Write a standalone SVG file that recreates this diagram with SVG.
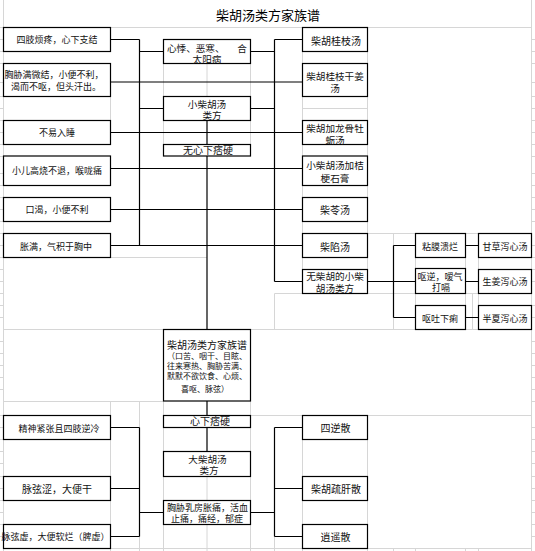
<svg xmlns="http://www.w3.org/2000/svg" width="535" height="551" viewBox="0 0 535 551">
<style>
.box{fill:#fff;stroke:#000;stroke-width:1.2}
.ln{stroke:#000;stroke-width:1.2;fill:none}
.grid{stroke:#d6d6d6;stroke-width:1;fill:none}
.t{font-family:"Liberation Sans","Noto Sans CJK SC",sans-serif;font-size:9px;fill:#111;text-anchor:middle;dominant-baseline:central}
.m{font-size:10px}
.d{font-size:9.6px}
.s{font-size:8px}
.title{font-family:"Liberation Sans","Noto Sans CJK SC",sans-serif;font-size:13px;fill:#000;text-anchor:middle}
</style>
<rect width="535" height="551" fill="#fff"/>
<g id="grid" class="grid">
<path d="M0 27.5H531.5M3.5 0V551M531.5 0V551M3.5 329.5H163.5M250.5 329.5H531.5M3.5 401.5H163.5M250.5 415.5H531.5M3.5 548.5H531.5M367.5 233.5H531.5M110.5 257.5H207M274.5 293.5H531.5"/>
<path d="M0 39.5h3.5M0 51.5h3.5M0 63.5h3.5M0 82.5h3.5M0 96.5h3.5M0 108.5h3.5M0 120.5h3.5M0 132.5h3.5M0 144.5h3.5M0 156.5h3.5M0 173.5h3.5M0 185.5h3.5M0 197.5h3.5M0 209.5h3.5M0 221.5h3.5M0 233.5h3.5M0 245.5h3.5M0 257.5h3.5M0 269.5h3.5M0 281.5h3.5M0 293.5h3.5M0 305.5h3.5M0 317.5h3.5M0 341.5h3.5M0 353.5h3.5M0 365.5h3.5M0 377.5h3.5M0 389.5h3.5M0 415.5h3.5M0 427.5h3.5M0 439.5h3.5M0 451.5h3.5M0 463.5h3.5M0 476.5h3.5M0 488.5h3.5M0 500.5h3.5M0 512.5h3.5M0 524.5h3.5M0 536.5h3.5"/>
<path d="M531.5 39.5h4M531.5 51.5h4M531.5 63.5h4M531.5 82.5h4M531.5 96.5h4M531.5 108.5h4M531.5 120.5h4M531.5 132.5h4M531.5 144.5h4M531.5 156.5h4M531.5 173.5h4M531.5 185.5h4M531.5 197.5h4M531.5 209.5h4M531.5 221.5h4M531.5 245.5h4M531.5 257.5h4M531.5 269.5h4M531.5 281.5h4M531.5 305.5h4M531.5 317.5h4M531.5 341.5h4M531.5 353.5h4M531.5 365.5h4M531.5 377.5h4M531.5 389.5h4M531.5 401.5h4M531.5 427.5h4M531.5 439.5h4M531.5 451.5h4M531.5 463.5h4M531.5 476.5h4M531.5 488.5h4M531.5 500.5h4M531.5 512.5h4M531.5 524.5h4M531.5 536.5h4"/>
<path d="M163.5 63.5V96.5M207 63.5V96.5M250.5 63.5V96.5M302.5 27.5V293.5M367.5 27.5V293.5M302.5 108.5H367.5M110.5 96.5V120.5M163.5 120.5V156.5M250.5 120.5V156.5M393.5 233.5V329.5M415.5 233.5V329.5M465.5 233.5V329.5M478.5 233.5V329.5M472.5 293.5V329.5M274.5 293.5V329.5M250.5 329.5V415.5"/>
<path d="M110.5 401.5V551M139.5 401.5V427.5M163.5 401.5V551M250.5 415.5V551M302.5 415.5V551M367.5 415.5V551M207 476.5V500.5M139.5 536.5V551M207 524.5V551M274.5 536.5V551M393.5 548.5V551M415.5 548.5V551M465.5 548.5V551M478.5 548.5V551"/>
</g>
<text class="title" x="268" y="19.5">柴胡汤类方家族谱</text>
<g id="connectors" class="ln">
<path d="M139.5 39.5V245.5M110.5 39.5H139.5M139.5 51.5H163.5M110.5 82H302.5M139.5 108.5H163.5M110.5 132.5H302.5M110.5 168.5H302.5M110.5 209.5H302.5M110.5 245.5H302.5"/>
<path d="M274.5 39.5V281.5M274.5 39.5H302.5M250.5 51.5H274.5M250.5 108.5H274.5M274.5 281.5H302.5M367.5 281.5H415.5"/>
<path d="M207 120V144.5M207 156V329.5M207 401V415.5M207 427.5V451.5"/>
<path d="M393.5 245.5V317.5M393.5 245.5H415.5M393.5 317.5H415.5M465.5 245.5H478.5M465.5 281.5H478.5M465.5 317.5H478.5"/>
<path d="M139.5 427.5V536.5M110.5 427.5H139.5M110.5 488.5H139.5M110.5 536.5H139.5M139.5 512.5H163.5"/>
<path d="M274.5 427.5V536.5M250.5 512.5H274.5M274.5 427.5H302.5M274.5 488.5H302.5M274.5 536.5H302.5"/>
</g>
<g id="n-l1"><rect class="box" x="3.5" y="27.5" width="107" height="24"/><text class="t" x="57" y="39.5">四肢烦疼，心下支结</text></g>
<g id="n-l2"><rect class="box" x="3.5" y="63.5" width="107" height="33"/><text class="t" x="54" y="75">胸胁满微结，小便不利，</text><text class="t" x="56" y="87">渴而不呕，但头汗出。</text></g>
<g id="n-l3"><rect class="box" x="3.5" y="120.5" width="107" height="24"/><text class="t" x="57" y="132.5">不易入睡</text></g>
<g id="n-l4"><rect class="box" x="3.5" y="156" width="107" height="29.5"/><text class="t" x="57" y="171">小儿高烧不退，喉咙痛</text></g>
<g id="n-l5"><rect class="box" x="3.5" y="197.5" width="107" height="24"/><text class="t" x="57" y="210">口渴，小便不利</text></g>
<g id="n-l6"><rect class="box" x="3.5" y="233.5" width="107" height="24"/><text class="t" x="56" y="246.5">胀满，气积于胸中</text></g>
<g id="n-c1"><rect class="box" x="163.5" y="39.5" width="87" height="24"/><text class="t d" x="167" y="48" style="text-anchor:start">心悸、恶寒、</text><text class="t d" x="242" y="48">合</text><text class="t d" x="207" y="59">太阳病</text></g>
<g id="n-c2"><rect class="box" x="163.5" y="96.5" width="87" height="24"/><text class="t d" x="207" y="104">小柴胡汤</text><text class="t d" x="212" y="115">类方</text></g>
<g id="n-c3"><rect class="box" x="163.5" y="144.5" width="87" height="11.5"/><text class="t m" x="208" y="150.5">无心下痞硬</text></g>
<g id="n-r1"><rect class="box" x="302.5" y="27.5" width="65" height="24"/><text class="t m" x="336" y="41.5">柴胡桂枝汤</text></g>
<g id="n-r2"><rect class="box" x="302.5" y="63.5" width="65" height="33"/><text class="t d" x="335" y="76">柴胡桂枝干姜</text><text class="t d" x="335" y="88.5">汤</text></g>
<g id="n-r3"><rect class="box" x="302.5" y="120.5" width="65" height="24"/><text class="t d" x="335" y="128">柴胡加龙骨牡</text><text class="t d" x="335" y="140">蛎汤</text></g>
<g id="n-r4"><rect class="box" x="302.5" y="156" width="65" height="29.5"/><text class="t d" x="335" y="165.5">小柴胡汤加桔</text><text class="t d" x="335" y="178">梗石膏</text></g>
<g id="n-r5"><rect class="box" x="302.5" y="197.5" width="65" height="24"/><text class="t m" x="335" y="210">柴苓汤</text></g>
<g id="n-r6"><rect class="box" x="302.5" y="233.5" width="65" height="24"/><text class="t m" x="335" y="247">柴陷汤</text></g>
<g id="n-r7"><rect class="box" x="302.5" y="269.5" width="65" height="24"/><text class="t d" x="335" y="276">无柴胡的小柴</text><text class="t d" x="335" y="288.5">胡汤类方</text></g>
<g id="n-a1"><rect class="box" x="415.5" y="233.5" width="50" height="24"/><text class="t" x="440" y="247">粘膜溃烂</text></g>
<g id="n-a2"><rect class="box" x="415.5" y="268.5" width="50" height="25"/><text class="t" x="440" y="276.5">呕逆，嗳气</text><text class="t" x="441" y="287.5">打嗝</text></g>
<g id="n-a3"><rect class="box" x="415.5" y="305.5" width="50" height="24"/><text class="t" x="440" y="319">呕吐下痢</text></g>
<g id="n-b1"><rect class="box" x="478.5" y="233.5" width="53" height="24"/><text class="t" x="505" y="247">甘草泻心汤</text></g>
<g id="n-b2"><rect class="box" x="478.5" y="269.5" width="53" height="24"/><text class="t" x="505" y="281.5">生姜泻心汤</text></g>
<g id="n-b3"><rect class="box" x="478.5" y="305.5" width="53" height="24"/><text class="t" x="505" y="319">半夏泻心汤</text></g>
<g id="n-center"><rect class="box" x="163.5" y="329.5" width="87" height="71.5"/><text class="t m" x="207" y="345.5">柴胡汤类方家族谱</text><text class="t s" x="207" y="356">（口苦、咽干、目眩、</text><text class="t s" x="207" y="366">往来寒热、胸胁苦满、</text><text class="t s" x="207" y="376.5">默默不欲饮食、心烦、</text><text class="t s" x="205" y="389">喜呕、脉弦）</text></g>
<g id="n-c4"><rect class="box" x="163.5" y="415.5" width="87" height="12"/><text class="t m" x="210" y="421.5">心下痞硬</text></g>
<g id="n-c5"><rect class="box" x="163.5" y="451.5" width="87" height="25"/><text class="t d" x="207.5" y="459">大柴胡汤</text><text class="t d" x="209" y="470.5">类方</text></g>
<g id="n-c6"><rect class="box" x="163.5" y="500.5" width="87" height="24"/><text class="t" x="207.5" y="507.5">胸胁乳房胀痛，活血</text><text class="t" x="207" y="519">止痛，痛经，郁症</text></g>
<g id="n-l7"><rect class="box" x="3.5" y="415.5" width="107" height="24"/><text class="t" x="59" y="429">精神紧张且四肢逆冷</text></g>
<g id="n-l8"><rect class="box" x="3.5" y="476.5" width="107" height="24"/><text class="t m" x="57" y="489">脉弦涩，大便干</text></g>
<g id="n-l9"><rect class="box" x="3.5" y="524.5" width="107" height="24"/><text class="t" x="55.5" y="536.5">脉弦虚，大便软烂（脾虚）</text></g>
<g id="n-r8"><rect class="box" x="302.5" y="415.5" width="65" height="24"/><text class="t m" x="335.5" y="428">四逆散</text></g>
<g id="n-r9"><rect class="box" x="302.5" y="476.5" width="65" height="24"/><text class="t m" x="336" y="489">柴胡疏肝散</text></g>
<g id="n-r10"><rect class="box" x="302.5" y="524.5" width="65" height="24"/><text class="t m" x="335.5" y="537">逍遥散</text></g>
</svg>
